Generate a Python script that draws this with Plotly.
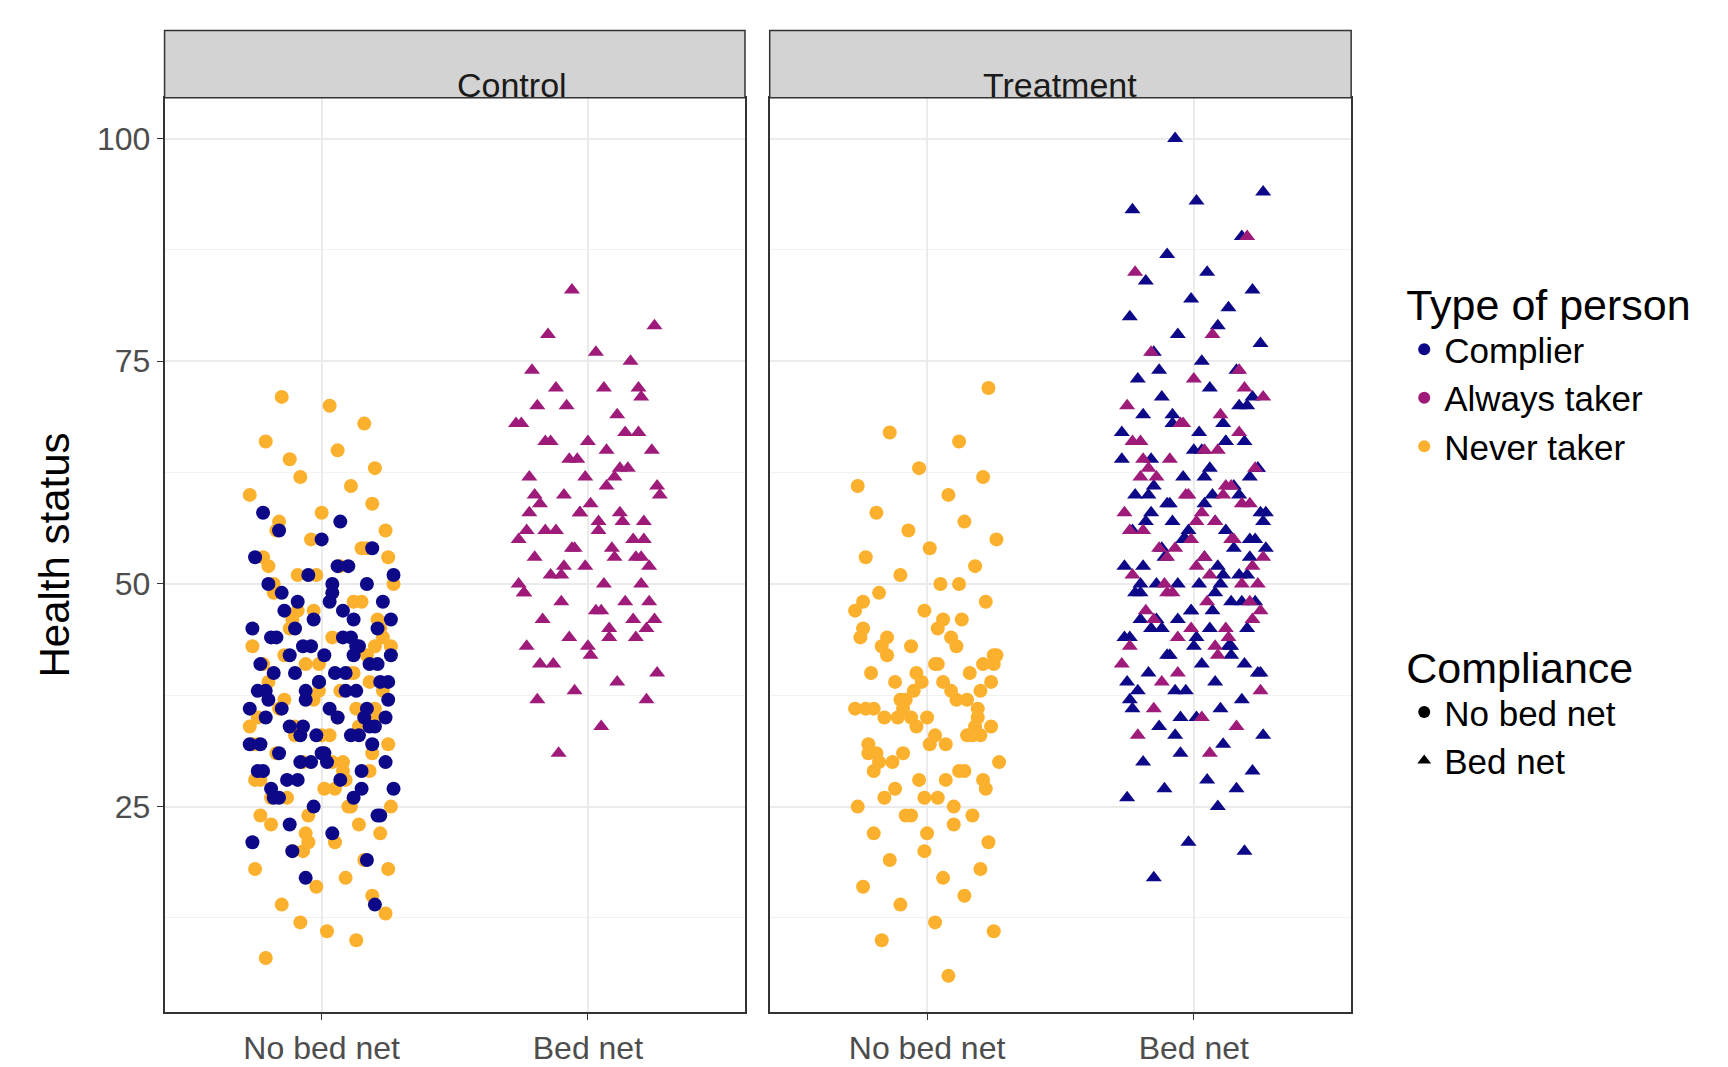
import plotly.graph_objects as go

categories = ["No bed net", "Bed net"]
panels = ["Control", "Treatment"]

JIT = [-0.21,0.13,0.02,-0.08,0.24,-0.15,0.19,-0.02,0.09,-0.25,0.16,-0.11,0.05,0.22,-0.19,-0.05,0.11,0.26,-0.13,0.01,
       -0.23,0.18,-0.07,0.08,-0.17,0.25,0.03,-0.1,0.14,-0.24,0.06,0.2,-0.14,-0.01,0.23,-0.2,0.1,-0.06,0.17,-0.26,
       0.04,-0.12,0.21,-0.03,0.12,-0.18,0.27,-0.09,0.07,-0.22,0.15,-0.04,0.24,-0.16,0.0,0.19,-0.27,0.11,-0.08,0.2,
       -0.12,0.06,-0.21,0.16,0.03,-0.15,0.25,-0.06,0.09,-0.24,0.13,-0.01,0.22,-0.18,0.05,-0.1,0.18,-0.23,0.01,0.26,
       -0.07,0.14,-0.19,0.08,-0.26,0.21,-0.03,0.12,-0.14,0.23,-0.09,0.04,-0.2,0.17,-0.05,0.1,-0.25,0.19,0.0,-0.16,
       0.07,-0.22,0.2,-0.11,0.15,-0.02,0.25,-0.17,0.04,-0.27,0.12,-0.08,0.22,-0.13,0.01,0.18,-0.2,0.09,-0.04,0.26,
       -0.15,0.06,-0.24,0.14,-0.06,0.21,-0.1,0.03,-0.19,0.24,-0.01,0.11,-0.23,0.17,-0.12,0.08,0.27,-0.16,0.02,-0.07]

ctrl_nonet_complier = [17,19,21,22,23,24,25,26,26,27,28,28,29,29,30,30,31,31,32,32,33,33,34,34,35,35,35,36,36,37,37,38,38,38,39,39,40,40,40,41,41,42,42,43,43,44,44,45,45,46,46,47,48,48,49,50,50,51,52,53,54,55,56,57,58,14,20,27,33,39,44,50,36,42,30,
                       24,28,31,34,37,40,43,46,49,52,29,33,38,41,45,48,27,35,39,44,32,36,42,47,51,26,30,34,38,43]
ctrl_nonet_never = [8,10,11,12,13,14,15,16,17,18,19,20,21,22,23,24,25,25,26,27,28,29,30,30,31,32,33,33,34,35,35,36,37,38,38,39,40,41,42,43,44,45,46,47,48,49,50,51,52,53,54,55,56,57,58,59,60,61,62,63,64,65,66,68,70,71,18,22,28,32,36,41,45,50,27,34,39,24,31,43,
                    20,23,26,29,32,35,37,40,42,44,47,49,52,54,21,25,28,31,33,36,38,41,43,46,48,51,53,56,30,34]
ctrl_net_always = [31,34,37,37,38,39,40,41,42,43,44,44,45,46,46,47,48,48,49,50,50,51,52,52,53,53,54,55,55,56,56,57,58,58,59,60,60,61,62,63,64,65,66,66,67,68,69,70,71,72,72,74,75,76,78,79,83,54,49,57,62,45,
                   41,47,51,53,56,59,61,64,67,70,44,50,55,58,63,66,48,52,57,60,46,54,62,68,72,43,56,65,58,53]
trt_nonet_never = [6,10,11,12,14,15,16,17,18,19,20,21,22,23,24,24,25,26,27,28,28,29,30,30,31,32,32,33,34,34,35,35,36,36,37,37,38,39,39,40,40,41,42,42,43,44,45,46,47,48,49,50,51,52,53,54,55,56,57,58,60,61,62,63,66,67,72,36,41,29,33,38,25,44,35,
                   22,26,28,31,33,35,37,39,41,43,45,47,50,24,27,30,32,34,36,38,40,42,44,46,48,29,35,41,37,33,31,39,26,43,36]
trt_net_complier = [17,20,21,25,26,27,27,28,29,30,31,32,33,34,35,36,37,38,39,40,40,41,42,43,44,45,45,46,47,48,49,50,50,51,52,53,54,55,55,56,57,58,59,60,60,61,62,63,64,65,66,67,68,69,70,71,72,73,74,75,76,77,78,79,80,81,82,83,84,85,87,89,92,93,94,100,48,52,57,44,62,38,66,50,55,42,59,46,70,35,
                    36,39,41,43,45,47,49,51,53,54,56,58,60,62,64,66,68,71,74,44,48,50,52,55,57,61,63,37,42,46,53,59,65,69,40,47,51,56,60,45,49,54,58,67,33,38,43,50,57,63]
trt_net_always = [31,33,34,35,36,38,40,42,43,44,45,46,47,48,49,50,51,52,53,54,55,56,57,58,59,60,61,62,63,64,65,66,67,68,69,70,72,73,76,78,85,89,50,55,60,47,63,53,
                  41,45,49,52,54,57,59,62,65,68,71,46,51,56,61,44,48,53,58,64,50,55,60,66,74,39,43]

COL = {"Complier": "#0D0887", "Always taker": "#9E1B7A", "Never taker": "#FBB12E"}

groups = [
    (1, 0, "Never taker", ctrl_nonet_never, 0),
    (1, 0, "Complier", ctrl_nonet_complier, 37),
    (1, 1, "Always taker", ctrl_net_always, 11),
    (2, 0, "Never taker", trt_nonet_never, 23),
    (2, 1, "Complier", trt_net_complier, 5),
    (2, 1, "Always taker", trt_net_always, 61),
]

fig = go.Figure()
for panel, xcat, typ, ys, off in groups:
    xs = [xcat + JIT[(i + off) % len(JIT)] for i in range(len(ys))]
    fig.add_trace(go.Scatter(
        x=xs, y=ys, mode="markers", showlegend=False,
        xaxis="x" if panel == 1 else "x2", yaxis="y" if panel == 1 else "y2",
        marker=dict(color=COL[typ], size=14, symbol="circle" if xcat == 0 else "triangle-up", line=dict(width=0))))

for t in ["Complier", "Always taker", "Never taker"]:
    fig.add_trace(go.Scatter(x=[None], y=[None], mode="markers", name=t, legend="legend",
                             marker=dict(color=COL[t], size=13, symbol="circle")))
for t, s in [("No bed net", "circle"), ("Bed net", "triangle-up")]:
    fig.add_trace(go.Scatter(x=[None], y=[None], mode="markers", name=t, legend="legend2",
                             marker=dict(color="black", size=13, symbol=s)))

yb, yt = 0.0587, 0.916
axx = dict(range=[-0.59, 1.59], tickvals=[0, 1], ticktext=categories, showgrid=True, gridcolor="#ebebeb",
           gridwidth=2, zeroline=False, showline=True, mirror=True, linecolor="#333333", linewidth=1.5,
           ticks="outside", ticklen=6, tickcolor="#333333", tickfont=dict(size=32, color="#4d4d4d", family="Liberation Sans"))
axy = dict(range=[1.9, 104.6], tickvals=[25, 50, 75, 100], showgrid=True, gridcolor="#ebebeb", gridwidth=2,
           minor=dict(tickvals=[12.5, 37.5, 62.5, 87.5], showgrid=True, gridcolor="#f2f2f2", gridwidth=1),
           zeroline=False, showline=True, mirror=True, linecolor="#333333", linewidth=1.5,
           ticks="outside", ticklen=6, tickcolor="#333333", tickfont=dict(size=32, color="#4d4d4d", family="Liberation Sans"),
           domain=[yb, yt])

fig.update_layout(
    width=1728, height=1067, margin=dict(l=0, r=0, t=0, b=0, autoexpand=False),
    plot_bgcolor="white", paper_bgcolor="white",
    font=dict(family="Liberation Sans", color="black"),
    xaxis=dict(axx, domain=[0.0906, 0.4265]),
    xaxis2=dict(axx, domain=[0.4408, 0.7773], anchor="y2"),
    yaxis=dict(axy, title=dict(text="Health status", font=dict(size=42), standoff=14)),
    yaxis2=dict(axy, showticklabels=False, ticks="", anchor="x2"),
    legend=dict(x=0.808, y=0.76, xanchor="left", yanchor="top", title=dict(text="Type of person", font=dict(size=43)),
                font=dict(size=35), itemsizing="constant"),
    legend2=dict(x=0.808, y=0.42, xanchor="left", yanchor="top", title=dict(text="Compliance", font=dict(size=43)),
                 font=dict(size=35), itemsizing="constant"),
)

for name, x0, x1 in [("Control", 0.0906, 0.4265), ("Treatment", 0.4408, 0.7773)]:
    fig.add_shape(type="rect", xref="paper", yref="paper", x0=x0, x1=x1, y0=yt, y1=0.979,
                  fillcolor="#d3d3d3", line=dict(color="#333333", width=1.5))
    fig.add_annotation(text=name, xref="paper", yref="paper", x=(x0 + x1) / 2, y=(yt + 0.979) / 2,
                       showarrow=False, font=dict(size=34, color="#1a1a1a"))

fig.write_html("out.html")
